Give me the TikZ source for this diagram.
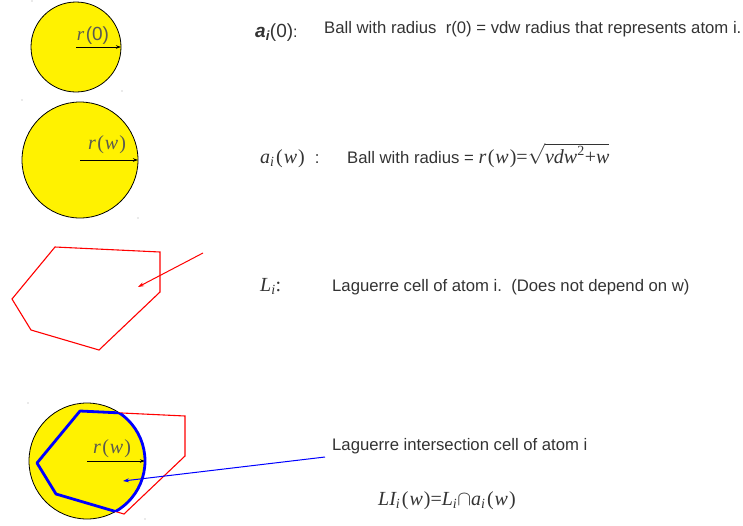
\documentclass[tikz,border=0pt]{standalone}
\usepackage{fontspec}
\setmainfont{Liberation Sans}
\newfontfamily\lserif{Liberation Serif}
\usetikzlibrary{arrows.meta}
\definecolor{txt}{HTML}{333333}
\definecolor{lbl}{HTML}{5a5a50}
\newcommand\mvar[1]{{\lserif\itshape #1}}
\newcommand\msub[1]{\textsubscript{\lserif\itshape #1}}
\newcommand\lpar{\kern1.5pt(\kern1pt}
\newcommand\rpar{\kern1pt)}
\begin{document}
\begin{tikzpicture}[x=1pt,y=-1pt,
  ball/.style={circle, draw=black, fill=yellow, line width=0.8pt, inner sep=0pt, outer sep=0pt, minimum size=#1},
  radarrow/.style={-{Stealth[length=5pt,width=3.5pt]}, line width=0.8pt, black},
  rlabel/.style={anchor=base, text=lbl, font=\fontsize{20}{22}\selectfont\lserif, inner sep=0pt},
  desc/.style={anchor=base west, text=txt, font=\fontsize{16.7}{19}\selectfont, inner sep=0pt},
  mathlbl/.style={anchor=base west, text=txt, font=\fontsize{20}{22}\selectfont\lserif, inner sep=0pt},
  cellline/.style={red, line width=1.1pt, line join=miter},
  isect/.style={blue, line width=2.8pt, line join=round},
  markdot/.style={fill=gray!70}
]
\useasboundingbox (0,0) rectangle (743,525);

% tiny corner marks
\fill[markdot] (32,1) circle[radius=0.6pt];
\fill[markdot] (122,91) circle[radius=0.6pt];
\fill[markdot] (22,100) circle[radius=0.6pt];
\fill[markdot] (138,218) circle[radius=0.6pt];
\fill[markdot] (28,403) circle[radius=0.6pt];
\fill[markdot] (145,519) circle[radius=0.6pt];

% ball r(0)
\node[ball=90pt] (b0) at (76,47) {};
\draw[radarrow] (b0.center) -- (b0.east);
\node[rlabel, font=\fontsize{19}{21}\selectfont] (r0) at (93,40) {{\lserif\itshape r}\kern1.5pt(0)};

% ball r(w)
\node[ball=116pt] (bw) at (80,160) {};
\draw[radarrow] (bw.center) -- (bw.east);
\node[rlabel] (rw) at (107,149) {\mvar{r}\lpar\mvar{w}\rpar};

% Laguerre cell
\coordinate (p1) at (55,247);
\coordinate (p2) at (160,252);
\coordinate (p3) at (160,292);
\coordinate (p4) at (99,350);
\coordinate (p5) at (31,330);
\coordinate (p6) at (12,299);
\draw[cellline] (p1) -- (p2) -- (p3) -- (p4) -- (p5) -- (p6) -- cycle;
\coordinate (ra) at (203,253);
\coordinate (rb) at (138,287);
\draw[red, line width=1pt, -{Stealth[length=6pt,width=4pt]}] (ra) -- (rb);

% intersection cell
\coordinate (q1) at (80,411);
\coordinate (q2) at (185,416);
\coordinate (q3) at (185,456);
\coordinate (q4) at (124,514);
\coordinate (q5) at (56,494);
\coordinate (q6) at (37,463);
\node[ball=116pt] (bi) at (87,461) {};
\draw[cellline] (q1) -- (q2) -- (q3) -- (q4) -- (q5) -- (q6) -- cycle;
\draw[radarrow] (bi.center) -- (bi.east);
\node[rlabel] (ri) at (112,453) {\mvar{r}\lpar\mvar{w}\rpar};
\begin{scope}
  \clip (87,461) circle[radius=58pt];
  \draw[isect] (q1) -- (q2) -- (q3) -- (q4) -- (q5) -- (q6) -- cycle;
\end{scope}
\begin{scope}
  \clip (q1) -- (q2) -- (q3) -- (q4) -- (q5) -- (q6) -- cycle;
  \draw[isect] (87,461) circle[radius=58pt];
\end{scope}
\coordinate (ba) at (325,457);
\coordinate (bb) at (123,481);
\draw[blue, line width=1pt, -{Stealth[length=6pt,width=4pt]}] (ba) -- (bb);

% texts
\node[anchor=base west, text=txt, font=\fontsize{19}{21}\selectfont, inner sep=0pt] (t1m) at (255,37)
  {{\bfseries\itshape a}\textsubscript{\bfseries\itshape i}(0){\fontsize{16}{18}\selectfont:}};
\node[desc] (t1) at (324,33.5) {Ball with radius\ \ r(0) = vdw radius that represents atom i.};

\node[mathlbl] (t2m) at (260,163) {\mvar{a}\msub{i}\lpar\mvar{w}\rpar\ \ {\rmfamily\fontsize{16.7}{19}\selectfont :}};
\node[desc] (t2) at (347,163) {Ball with radius = {\lserif\fontsize{20}{22}\selectfont\mvar{r}\lpar\mvar{w}\rpar=$\sqrt{\hbox{\lserif\fontsize{20}{22}\selectfont\mvar{vdw}\textsuperscript{2}+\mvar{w}}}$}};

\node[mathlbl] (t3m) at (260,291) {\mvar{L}\msub{i}:};
\node[desc] (t3) at (332,291.5) {Laguerre cell of atom i.\ \ (Does not depend on w)};

\node[desc] (t4) at (332,450) {Laguerre intersection cell of atom i};
\node[mathlbl] (t5) at (378,505.5) {\mvar{LI}\msub{i}\lpar\mvar{w}\rpar=\mvar{L}\msub{i}$\cap$\mvar{a}\msub{i}\lpar\mvar{w}\rpar};
\end{tikzpicture}
\end{document}
